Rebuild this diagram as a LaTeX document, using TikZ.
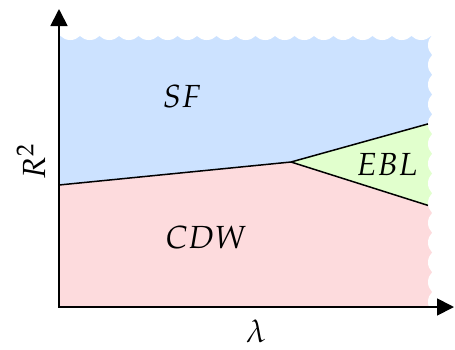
\documentclass[tikz,border=0pt]{standalone}
\usepackage{mathpazo}
\usetikzlibrary{arrows.meta}
\definecolor{sfblue}{RGB}{204,226,255}
\definecolor{cdwpink}{RGB}{253,219,221}
\definecolor{eblgreen}{RGB}{225,255,205}
\begin{document}
\begin{tikzpicture}[x=1pt,y=-1pt,
  lbl/.style={font=\fontsize{32}{34}\selectfont, inner sep=0pt},
  bline/.style={line width=1.5pt, line join=round},
  axisline/.style={line width=1.8pt, {Triangle[length=17pt,width=17pt]}-{Triangle[length=17pt,width=17pt]}},
  scallop/.style={fill=white}]
\useasboundingbox (0,0) rectangle (455,349);
\coordinate (O) at (59,307);
\coordinate (A) at (59,185);
\coordinate (P) at (291,162);
\coordinate (Bu) at (428,123.9);
\coordinate (Bl) at (428,205.4);
\coordinate (Ue) at (436,121.7);
\coordinate (Le) at (436,208.0);
\coordinate (ytip) at (59,9);
\coordinate (xtip) at (454,307);
% regions
\fill[sfblue] (A) -- (P) -- (Ue) -- (436,30) -- (59,30) -- cycle;
\fill[eblgreen] (P) -- (Ue) -- (Le) -- cycle;
\fill[cdwpink] (O) -- (A) -- (P) -- (Le) -- (436,307) -- cycle;
% wavy cut edges
\foreach \i in {0,...,20} \fill[scallop] (50.75+19.5*\i, 26.1) circle[radius=13.9pt];
\foreach \j in {0,...,13} \fill[scallop] (441.9, 45.1+19.75*\j) circle[radius=13.9pt];
% boundaries
\draw[bline] (A) -- (P) -- (Bu);
\draw[bline] (P) -- (Bl);
% axes
\draw[axisline] (ytip) -- (O) -- (xtip);
% labels
\node[lbl] (sf) at (182,97) {$SF$};
\node[lbl] (cdw) at (206,238) {$CDW$};
\node[lbl] (ebl) at (387,165) {$EBL$};
\node[lbl] (lam) at (256,331) {$\lambda$};
\node[lbl, rotate=90] (r2) at (31,162) {$R^2$};
\end{tikzpicture}
\end{document}
